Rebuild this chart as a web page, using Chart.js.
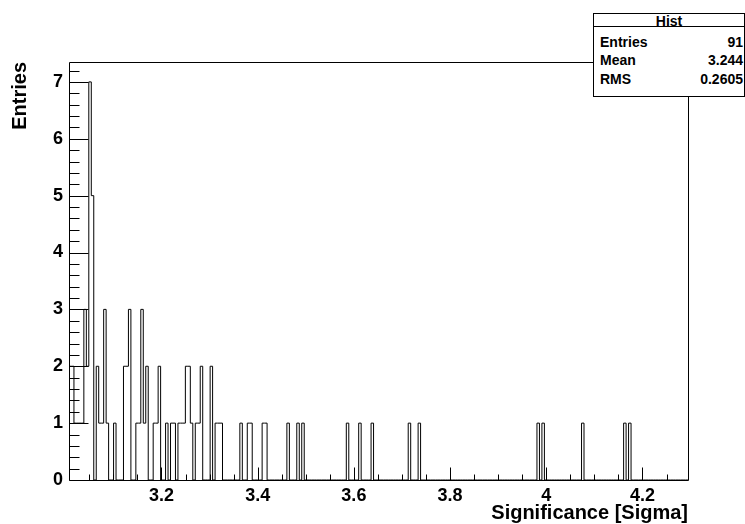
<!DOCTYPE html>
<html>
<head>
<meta charset="utf-8">
<title>Significance</title>
<script src="https://cdn.jsdelivr.net/npm/chart.js@4/dist/chart.umd.min.js"></script>
<style>
  html, body { margin: 0; padding: 0; background: #fff; }
  #wrap { position: relative; width: 745px; height: 524px; overflow: hidden; }
  #hist { display: block; }
  #stats {
    position: absolute; left: 593px; top: 13px; width: 152px; height: 84px;
    box-sizing: border-box; border: 1px solid #000; background: #fff; color: #000;
    font: bold 14px "Liberation Sans", Arial, Helvetica, sans-serif;
  }
  #stats .title {
    position: absolute; left: 0; right: 0; top: 0; height: 12px; line-height: 14px;
    text-align: center; border-bottom: 1px solid #000;
  }
  #stats .row { position: absolute; left: 6px; right: 1px; height: 16px; line-height: 16px; }
  #stats .row span { position: absolute; right: 0; top: 0; }
</style>
</head>
<body>
<div id="wrap">
  <canvas id="hist" width="745" height="524"></canvas>
  <div id="stats"><div class="title">Hist</div></div>
</div>
<script>
// histogram binning
const X_MIN = 3.0077;
const X_MAX = 4.2947;
const N_BINS = 250;

// non-empty bins (bin number) and their contents
const filledBins = [0, 1, 2, 3, 4, 5, 6, 7, 8, 9, 11, 12, 13, 14, 15, 18, 22, 23, 24,
  27, 28, 29, 30, 31, 34, 35, 36, 39, 41, 42, 44, 45, 46, 47, 48, 49, 51, 52, 53, 57,
  59, 60, 61, 69, 72, 73, 78, 79, 88, 92, 94, 112, 117, 122, 137, 141, 189, 191, 207,
  224, 226];
const binContents = [2, 2, 1, 1, 1, 1, 3, 2, 7, 5, 2, 1, 1, 3, 1, 1, 2, 2, 3,
  1, 1, 3, 1, 2, 1, 1, 2, 1, 1, 1, 1, 1, 1, 2, 2, 1, 1, 1, 2, 2,
  1, 1, 1, 1, 1, 1, 1, 1, 1, 1, 1, 1, 1, 1, 1, 1, 1, 1, 1,
  1, 1];

// axis labels
const xTickValues = [3.2, 3.4, 3.6, 3.8, 4.0, 4.2];
const xTickLabels = ["3.2", "3.4", "3.6", "3.8", "4", "4.2"];
const yTickValues = [0, 1, 2, 3, 4, 5, 6, 7];
const Y_MAX = 7.35;

// stats box
const statsLabels = ["Entries", "Mean", "RMS"];
const statsValues = ["91", "3.244", "0.2605"];

const FONT = '"Liberation Sans", Arial, Helvetica, sans-serif';

// fill the stats box
const statsBox = document.getElementById("stats");
statsLabels.forEach((label, i) => {
  const row = document.createElement("div");
  row.className = "row";
  row.style.top = (19.5 + i * 18.75) + "px";
  row.textContent = label;
  const val = document.createElement("span");
  val.textContent = statsValues[i];
  row.appendChild(val);
  statsBox.appendChild(row);
});

// bin contents -> step outline
const contents = new Array(N_BINS).fill(0);
filledBins.forEach((bin, i) => { contents[bin] = binContents[i]; });
const binWidth = (X_MAX - X_MIN) / N_BINS;
const outline = [{ x: X_MIN, y: 0 }];
contents.forEach((c, i) => outline.push({ x: X_MIN + i * binWidth, y: c }));
outline.push({ x: X_MAX, y: contents[N_BINS - 1] }, { x: X_MAX, y: 0 });

// frame plus inward ticks, ROOT style
const rootFrame = {
  id: "rootFrame",
  afterDatasetsDraw(chart) {
    const { ctx, chartArea: area, scales: { x, y } } = chart;
    const px = v => Math.round(v) + 0.5;
    const left = px(area.left), right = px(area.right);
    const top = px(area.top), bottom = px(area.bottom);
    ctx.save();
    ctx.strokeStyle = "#000";
    ctx.lineWidth = 1;
    ctx.beginPath();
    ctx.rect(left, top, right - left, bottom - top);

    // x: minor every 0.05, major every 0.2
    for (let k = Math.ceil(X_MIN / 0.05); k <= Math.floor(X_MAX / 0.05); k++) {
      const xp = px(x.getPixelForValue(k * 0.05));
      const len = k % 4 === 0 ? 13 : 6;
      ctx.moveTo(xp, bottom);
      ctx.lineTo(xp, bottom - len);
    }
    // y: minor every 0.2, major every 1
    for (let k = 0; k <= Math.floor(Y_MAX / 0.2 + 1e-6); k++) {
      const yp = px(y.getPixelForValue(k * 0.2));
      const len = k % 5 === 0 ? 19 : 10;
      ctx.moveTo(left, yp);
      ctx.lineTo(left + len, yp);
    }
    ctx.stroke();
    ctx.restore();
  }
};

new Chart(document.getElementById("hist"), {
  type: "line",
  data: {
    datasets: [{
      label: "Hist",
      data: outline,
      stepped: "before",
      borderColor: "#000",
      borderWidth: 1,
      pointRadius: 0,
      fill: false
    }]
  },
  options: {
    responsive: false,
    animation: false,
    layout: { padding: { left: 0, right: 57, top: 62, bottom: 0 } },
    plugins: { legend: { display: false }, tooltip: { enabled: false } },
    scales: {
      x: {
        type: "linear",
        min: X_MIN,
        max: X_MAX,
        grid: { display: false, drawTicks: false },
        border: { display: false },
        afterBuildTicks: axis => { axis.ticks = xTickValues.map(v => ({ value: v })); },
        afterFit: axis => { axis.height = 44; },
        ticks: {
          callback: (value, index) => xTickLabels[index],
          autoSkip: false,
          maxRotation: 0,
          padding: 5,
          color: "#000",
          font: { family: FONT, size: 18, weight: "bold" }
        },
        title: {
          display: true,
          text: "Significance [Sigma]",
          align: "end",
          color: "#000",
          padding: { top: 0, bottom: 0 },
          font: { family: FONT, size: 20, weight: "bold", lineHeight: 1.1 }
        }
      },
      y: {
        type: "linear",
        min: 0,
        max: Y_MAX,
        grid: { display: false, drawTicks: false },
        border: { display: false },
        afterBuildTicks: axis => { axis.ticks = yTickValues.map(v => ({ value: v })); },
        afterFit: axis => { axis.width = 69; },
        ticks: {
          callback: value => String(value),
          padding: 6,
          color: "#000",
          font: { family: FONT, size: 18, weight: "bold" }
        },
        title: {
          display: true,
          text: "Entries",
          align: "end",
          color: "#000",
          padding: { top: 9, bottom: 0 },
          font: { family: FONT, size: 20, weight: "bold", lineHeight: 1.1 }
        }
      }
    }
  },
  plugins: [rootFrame]
});
</script>
</body>
</html>
